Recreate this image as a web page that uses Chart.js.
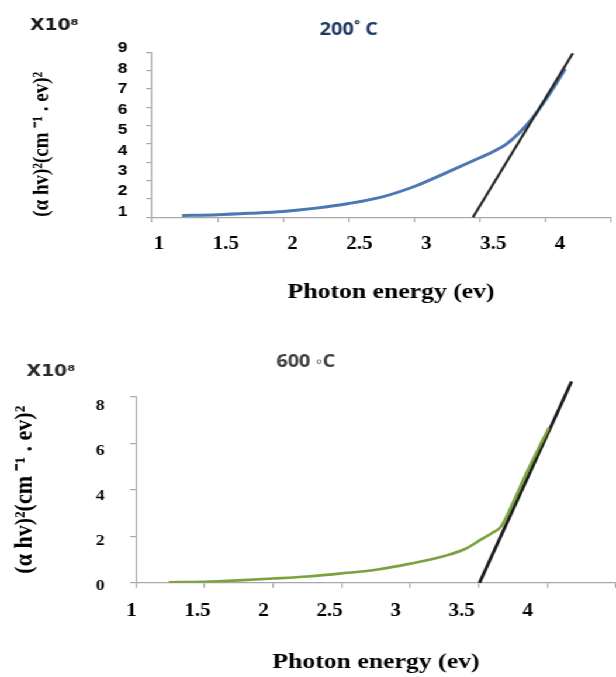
<!DOCTYPE html>
<html><head><meta charset="utf-8">
<script src="https://cdn.jsdelivr.net/npm/chart.js@4.4.0/dist/chart.umd.min.js"></script>
<style>
html,body{margin:0;padding:0;background:#fff;overflow:hidden;width:616px;height:677px}
#wrap{width:527px;transform:scaleX(1.16888);transform-origin:0 0}
canvas{display:block}
</style></head><body>
<div id="wrap">
<canvas id="c1" width="527" height="330"></canvas>
<canvas id="c2" width="527" height="347"></canvas>
</div>
<script>
// ---------- data (photon energy in eV, (αhν)² in units of 1e8) ----------
const energy200 = [1.23, 1.5, 1.75, 2.0, 2.25, 2.5, 2.75, 3.0, 3.25, 3.5, 3.6, 3.7, 3.8, 3.9, 4.0, 4.1, 4.15];
const absorb200 = [0.1, 0.14, 0.22, 0.32, 0.5, 0.75, 1.1, 1.68, 2.45, 3.25, 3.58, 3.98, 4.6, 5.4, 6.4, 7.5, 8.1];
const fitEnergy200 = [3.448, 4.209];
const fitAbsorb200 = [0, 8.95];

const energy600 = [1.24, 1.5, 1.75, 2.0, 2.25, 2.5, 2.75, 3.0, 3.25, 3.4, 3.5, 3.6, 3.66, 3.75, 3.85, 3.95, 4.01];
const absorb600 = [0.02, 0.04, 0.1, 0.18, 0.27, 0.4, 0.56, 0.82, 1.15, 1.45, 1.8, 2.15, 2.4, 3.45, 4.75, 5.95, 6.65];
const fitEnergy600 = [3.505, 4.176];
const fitAbsorb600 = [0, 8.65];

const xTickValues = [1, 1.5, 2, 2.5, 3, 3.5, 4];
const xTickLabels = ['1', '1.5', '2', '2.5', '3', '3.5', '4'];
const yTickValues200 = [1, 2, 3, 4, 5, 6, 7, 8, 9];
const yTickLabels200 = ['1', '2', '3', '4', '5', '6', '7', '8', '9'];
const yTickValues600 = [0, 2, 4, 6, 8];
const yTickLabels600 = ['0', '2', '4', '6', '8'];

const title200 = '200\u02DA C';
const title600 = '600 \u25E6C';
const multiplier = 'X10\u2078';
const xTitle = 'Photon energy (ev)';
const yTitle = '(\u03B1 hv)\u00B2(cm \u207B\u00B9 . ev)\u00B2';

// ---------- styling ----------
const AXIS = '#a8a8a8';
const SERIF = "'Liberation Serif','Times New Roman',serif";
const SANS = "'Liberation Sans',Arial,sans-serif";

function pts(xs, ys) { return xs.map((x, i) => ({ x: x, y: ys[i] })); }

function tickAxis(pos, min, max, step, size) {
  return {
    type: 'linear', position: pos, weight: 0, min: min, max: max,
    ticks: { stepSize: step, display: false },
    grid: { display: true, drawOnChartArea: false, drawTicks: true, tickLength: 5, color: AXIS, lineWidth: 1.2 },
    border: { display: true, color: AXIS, width: 1.2 },
    afterFit(s) { if (pos === 'left') s.width = size; else s.height = size; }
  };
}

function labelAxis(pos, min, max, values, labels, font, padding, size, title) {
  return {
    type: 'linear', position: pos, weight: 1, min: min, max: max,
    afterBuildTicks(s) { s.ticks = values.map(v => ({ value: v })); },
    ticks: { autoSkip: false, maxRotation: 0, minRotation: 0, padding: padding, font: font, color: '#000',
             callback: (v, i) => labels[i] },
    grid: { display: false, drawTicks: false, tickLength: 0 }, border: { display: false },
    title: title,
    afterFit(s) { if (pos === 'left') s.width = size; else s.height = size; }
  };
}

function make(id, cfg) {
  return new Chart(document.getElementById(id), {
    type: 'scatter',
    data: { datasets: cfg.datasets },
    options: {
      responsive: false, animation: false, devicePixelRatio: 1,
      layout: { autoPadding: false, padding: cfg.pad },
      plugins: {
        legend: { display: false }, tooltip: { enabled: false },
        title: cfg.title, subtitle: cfg.subtitle
      },
      scales: cfg.scales
    }
  });
}

// ---------- top chart: 200 C ----------
make('c1', {
  pad: { left: 25.7, right: 4.3, top: 0, bottom: 0 },
  datasets: [
    { data: pts(fitEnergy200, fitAbsorb200), showLine: true, borderColor: '#262626', borderWidth: 2.2, pointRadius: 0, clip: false },
    { data: pts(energy200, absorb200), showLine: true, borderColor: '#4a79b2', borderWidth: 3, pointRadius: 0, cubicInterpolationMode: 'monotone' }
  ],
  title: { display: true, text: '           ' + title200, align: 'center', color: '#1f3864',
           font: { family: "'Open Sans',sans-serif", size: 17, weight: 'bold' }, padding: { top: 19.8, bottom: 0 } },
  subtitle: { display: true, text: multiplier, align: 'start', color: '#1a1a1a',
              font: { family: "'DejaVu Sans',sans-serif", size: 16, weight: 'bold' }, padding: { top: -23.8, bottom: 16.7 } },
  scales: {
    x: tickAxis('bottom', 1, 4.5, 0.5, 6),
    y: tickAxis('left', 0, 9, 1, 6),
    x2: labelAxis('bottom', 0.948, 4.381, xTickValues, xTickLabels,
                  { family: SERIF, size: 18, weight: 'bold' }, 10.4, 106.7,
                  { display: true, text: '   ' + xTitle, color: '#000', font: { family: SERIF, size: 22, weight: 'bold' },
                    padding: { top: 0, bottom: 24.8 } }),
    y2: labelAxis('left', 0.726, 8.804, yTickValues200, yTickLabels200,
                  { family: SANS, size: 15, weight: 'bold' }, 14.8, 98.3,
                  { display: true, text: yTitle + '    ', color: '#000', font: { family: SERIF, size: 19, weight: 'bold' },
                    padding: { top: -1.2, bottom: 0 } })
  }
});

// ---------- bottom chart: 600 C ----------
make('c2', {
  pad: { left: 22.8, right: 0, top: 0, bottom: 0 },
  datasets: [
    { data: pts(energy600, absorb600), showLine: true, borderColor: '#7aa23e', borderWidth: 2.6, pointRadius: 0, cubicInterpolationMode: 'monotone' },
    { data: pts(fitEnergy600, fitAbsorb600), showLine: true, borderColor: '#1a1a1a', borderWidth: 2.8, pointRadius: 0, clip: false }
  ],
  title: { display: true, text: title600 + '      ', align: 'center', color: '#404040',
           font: { family: "'Open Sans',sans-serif", size: 17, weight: 'bold' }, padding: { top: 21.8, bottom: 0 } },
  subtitle: { display: true, text: multiplier, align: 'start', color: '#2b2b2b',
              font: { family: "'DejaVu Sans',sans-serif", size: 16, weight: 'bold' }, padding: { top: -10.3, bottom: 15.6 } },
  scales: {
    x: tickAxis('bottom', 1, 4.5, 0.5, 6),
    y: tickAxis('left', 0, 8, 2, 6),
    x2: labelAxis('bottom', 1.034, 4.668, xTickValues, xTickLabels,
                  { family: SERIF, size: 18, weight: 'bold' }, 11.5, 88.3,
                  { display: true, text: xTitle, color: '#000', font: { family: SERIF, size: 22, weight: 'bold' },
                    padding: { top: 0, bottom: 1.9 } }),
    y2: labelAxis('left', 0.168, 8.398, yTickValues600, yTickLabels600,
                  { family: SERIF, size: 15, weight: 'bold' }, 20.8, 87.5,
                  { display: true, text: yTitle, color: '#000', font: { family: SERIF, size: 22, weight: 'bold' },
                    padding: { top: -14.6, bottom: 0 } })
  }
});
</script>
</body></html>
